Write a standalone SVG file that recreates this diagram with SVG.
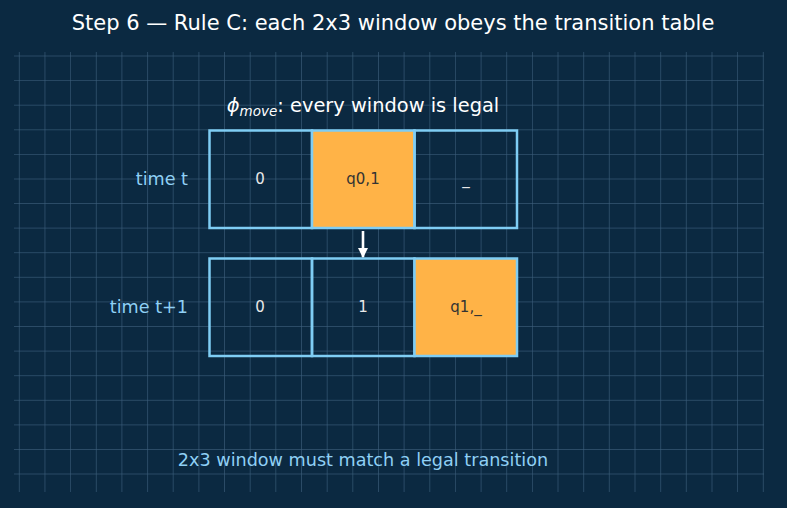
<svg xmlns="http://www.w3.org/2000/svg" width="787" height="508" viewBox="0 0 787 508">
<style>
.grid line{stroke:#3d5f7c;stroke-width:0.8;opacity:0.8}
.cell{stroke:#7fcdf4;stroke-width:2.5;fill:none}
.hl{fill:#ffb347}
.t{font-family:"DejaVu Sans",sans-serif}
.ct{font-size:15px;text-anchor:middle;dominant-baseline:central}
.lab{font-size:17.6px;fill:#8fd0f5;text-anchor:end;dominant-baseline:central}
</style>
<defs>
<marker id="ah" viewBox="0 0 10 10" refX="9" refY="5" markerWidth="4" markerHeight="4" orient="auto" markerUnits="strokeWidth">
<path d="M0,0 L10,5 L0,10 z" fill="#ffffff"/>
</marker>
</defs>
<rect width="787" height="508" fill="#0b2941"/>
<g class="grid" id="grid">
<line x1="19.3" y1="52" x2="19.3" y2="492"/><line x1="44.95" y1="52" x2="44.95" y2="492"/><line x1="70.6" y1="52" x2="70.6" y2="492"/><line x1="96.3" y1="52" x2="96.3" y2="492"/><line x1="121.9" y1="52" x2="121.9" y2="492"/><line x1="147.6" y1="52" x2="147.6" y2="492"/><line x1="173.2" y1="52" x2="173.2" y2="492"/><line x1="198.9" y1="52" x2="198.9" y2="492"/><line x1="224.5" y1="52" x2="224.5" y2="492"/><line x1="250.2" y1="52" x2="250.2" y2="492"/><line x1="275.8" y1="52" x2="275.8" y2="492"/><line x1="301.5" y1="52" x2="301.5" y2="492"/><line x1="327.2" y1="52" x2="327.2" y2="492"/><line x1="352.8" y1="52" x2="352.8" y2="492"/><line x1="378.5" y1="52" x2="378.5" y2="492"/><line x1="404.1" y1="52" x2="404.1" y2="492"/><line x1="429.8" y1="52" x2="429.8" y2="492"/><line x1="455.4" y1="52" x2="455.4" y2="492"/><line x1="481.1" y1="52" x2="481.1" y2="492"/><line x1="506.7" y1="52" x2="506.7" y2="492"/><line x1="532.4" y1="52" x2="532.4" y2="492"/><line x1="558" y1="52" x2="558" y2="492"/><line x1="583.7" y1="52" x2="583.7" y2="492"/><line x1="609.3" y1="52" x2="609.3" y2="492"/><line x1="635" y1="52" x2="635" y2="492"/><line x1="660.7" y1="52" x2="660.7" y2="492"/><line x1="686.3" y1="52" x2="686.3" y2="492"/><line x1="712" y1="52" x2="712" y2="492"/><line x1="737.6" y1="52" x2="737.6" y2="492"/><line x1="763.3" y1="52" x2="763.3" y2="492"/>
<line x1="14" y1="56" x2="764" y2="56"/><line x1="14" y1="80.6" x2="764" y2="80.6"/><line x1="14" y1="105.2" x2="764" y2="105.2"/><line x1="14" y1="129.8" x2="764" y2="129.8"/><line x1="14" y1="154.4" x2="764" y2="154.4"/><line x1="14" y1="179" x2="764" y2="179"/><line x1="14" y1="203.5" x2="764" y2="203.5"/><line x1="14" y1="228.1" x2="764" y2="228.1"/><line x1="14" y1="252.7" x2="764" y2="252.7"/><line x1="14" y1="277.3" x2="764" y2="277.3"/><line x1="14" y1="301.9" x2="764" y2="301.9"/><line x1="14" y1="326.5" x2="764" y2="326.5"/><line x1="14" y1="351.1" x2="764" y2="351.1"/><line x1="14" y1="375.7" x2="764" y2="375.7"/><line x1="14" y1="400.3" x2="764" y2="400.3"/><line x1="14" y1="424.9" x2="764" y2="424.9"/><line x1="14" y1="449.5" x2="764" y2="449.5"/><line x1="14" y1="474" x2="764" y2="474"/>
</g>
<text class="t" x="393" y="30" font-size="21" fill="#ffffff" text-anchor="middle">Step 6 — Rule C: each 2x3 window obeys the transition table</text>
<text class="t" x="363" y="112" font-size="19.4" fill="#ffffff" text-anchor="middle"><tspan font-style="italic">ϕ</tspan><tspan font-style="italic" font-size="13.5" dy="3.5">move</tspan><tspan dy="-3.5">: every window is legal</tspan></text>
<g id="row-t">
<text class="t lab" x="188" y="179">time t</text>
<g id="c00"><rect class="cell" x="209.5" y="130.5" width="102.5" height="97.5"/><text class="t ct" x="260" y="179" fill="#e8e8e8">0</text></g>
<g id="c01"><rect class="cell hl" x="312" y="130.5" width="102.5" height="97.5"/><text class="t ct" x="363" y="179" fill="#333333">q0,1</text></g>
<g id="c02"><rect class="cell" x="414.5" y="130.5" width="102.5" height="97.5"/><text class="t ct" x="466" y="179" fill="#e8e8e8">_</text></g>
</g>
<g id="row-t1">
<text class="t lab" x="188" y="307">time t+1</text>
<g id="c10"><rect class="cell" x="209.5" y="258.5" width="102.5" height="97.5"/><text class="t ct" x="260" y="307" fill="#e8e8e8">0</text></g>
<g id="c11"><rect class="cell" x="312" y="258.5" width="102.5" height="97.5"/><text class="t ct" x="363" y="307" fill="#e8e8e8">1</text></g>
<g id="c12"><rect class="cell hl" x="414.5" y="258.5" width="102.5" height="97.5"/><text class="t ct" x="466" y="307" fill="#333333">q1,_</text></g>
</g>
<g id="connectors">
<line x1="363" y1="231" x2="363" y2="257" stroke="#ffffff" stroke-width="2.6" marker-end="url(#ah)"/>
</g>
<text class="t" x="363" y="465.5" font-size="17.6" fill="#8fd0f5" text-anchor="middle">2x3 window must match a legal transition</text>
</svg>
